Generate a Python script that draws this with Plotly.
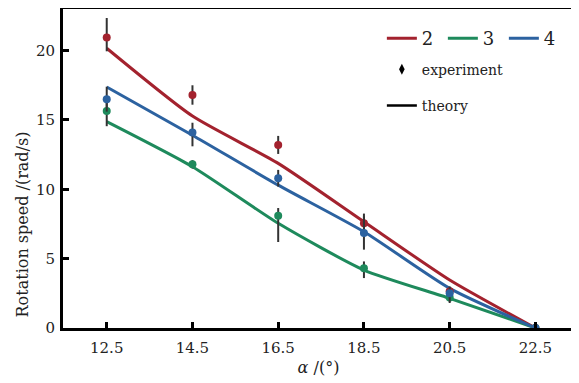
import plotly.graph_objects as go

alpha = [12.5, 14.5, 16.5, 18.5, 20.5, 22.5]
x_ticks = [12.5, 14.5, 16.5, 18.5, 20.5, 22.5]
y_ticks = [0, 5, 10, 15, 20]

# experiment (points) and errors
exp2 = [20.95, 16.8, 13.2, 7.55, 2.65, 0.0]
err2_up = [1.4, 0.7, 0.65, 0.5, 0.3, 0.0]
err2_dn = [1.0, 0.7, 0.65, 0.5, 0.3, 0.0]
exp3 = [15.65, 11.8, 8.1, 4.3, 2.2, 0.0]
err3_up = [0.9, 0.3, 0.55, 0.5, 0.3, 0.0]
err3_dn = [1.1, 0.3, 1.9, 0.7, 0.3, 0.0]
exp4 = [16.5, 14.1, 10.8, 6.85, 2.5, 0.0]
err4_up = [0.9, 0.7, 0.6, 1.4, 0.5, 0.0]
err4_dn = [0.9, 1.0, 0.6, 1.2, 0.7, 0.0]

# theory curves
th2 = [20.17, 15.28, 11.87, 7.66, 3.46, 0.0]
th3 = [14.88, 11.63, 7.55, 4.18, 2.14, 0.0]
th4 = [17.38, 13.9, 10.3, 6.94, 2.86, 0.0]

names = ["2", "3", "4"]
colors = ["#a3222e", "#1e8a5c", "#2c62a0"]
SERIF = "DejaVu Serif"

fig = go.Figure()
for nm, c, th in zip(names, colors, [th2, th3, th4]):
    fig.add_trace(go.Scatter(x=alpha, y=th, mode="lines",
                             line=dict(color=c, width=3, shape="spline", smoothing=0.6),
                             name=nm, legend="legend", showlegend=True))
for c, ex, eu, ed in zip(colors, [exp2, exp3, exp4], [err2_up, err3_up, err4_up], [err2_dn, err3_dn, err4_dn]):
    fig.add_trace(go.Scatter(x=alpha, y=ex, mode="markers",
                             marker=dict(color=c, size=8),
                             error_y=dict(type="data", array=eu, arrayminus=ed, color="#333333", thickness=2, width=0),
                             showlegend=False))

# legend-only entries
fig.add_trace(go.Scatter(x=[None], y=[None], mode="markers", name="experiment",
                         marker=dict(color="black", size=8, symbol="diamond-tall"),
                         legend="legend2", legendgroup="e"))
fig.add_trace(go.Scatter(x=[None], y=[None], mode="lines", name="theory",
                         line=dict(color="black", width=2.5), legend="legend2", legendgroup="t"))

fig.update_layout(
    width=571, height=375,
    margin=dict(l=55, r=5, t=1, b=55, autoexpand=False),
    paper_bgcolor="white", plot_bgcolor="white",
    font=dict(family=SERIF, size=14, color="#222"),
    showlegend=True,
    legend=dict(orientation="h", x=0.624, y=0.965, xanchor="left", yanchor="top",
                font=dict(family=SERIF, size=18, color="#222"), bgcolor="rgba(0,0,0,0)",
                itemwidth=30, entrywidth=16),
    legend2=dict(orientation="v", x=0.624, y=0.86, xanchor="left", yanchor="top",
                 font=dict(family=SERIF, size=14, color="#222"), bgcolor="rgba(0,0,0,0)",
                 itemwidth=30, tracegroupgap=15),
    xaxis=dict(range=[11.48, 23.4], tickvals=x_ticks, ticktext=[str(v) for v in x_ticks],
               ticks="inside", ticklen=6, tickwidth=2.5, tickcolor="black",
               showline=True, linecolor="black", linewidth=3, mirror=True,
               showgrid=False, zeroline=False, ticklabelstandoff=4,
               title=dict(text="<i>α</i> /(°)", font=dict(family=SERIF, size=16), standoff=6),
               tickfont=dict(family=SERIF, size=15)),
    yaxis=dict(range=[0, 23.0], tickvals=y_ticks,
               ticks="inside", ticklen=6, tickwidth=2.5, tickcolor="black",
               showline=True, linecolor="black", linewidth=3, mirror=True,
               showgrid=False, zeroline=False, ticklabelstandoff=2,
               tickfont=dict(family=SERIF, size=15)),
    annotations=[dict(text="Rotation speed /(rad/s)", xref="paper", yref="paper",
                      x=-0.08, y=0.325, textangle=-90, showarrow=False,
                      xanchor="center", yanchor="middle",
                      font=dict(family=SERIF, size=16, color="#222"))],
)
fig.write_html("out.html")
